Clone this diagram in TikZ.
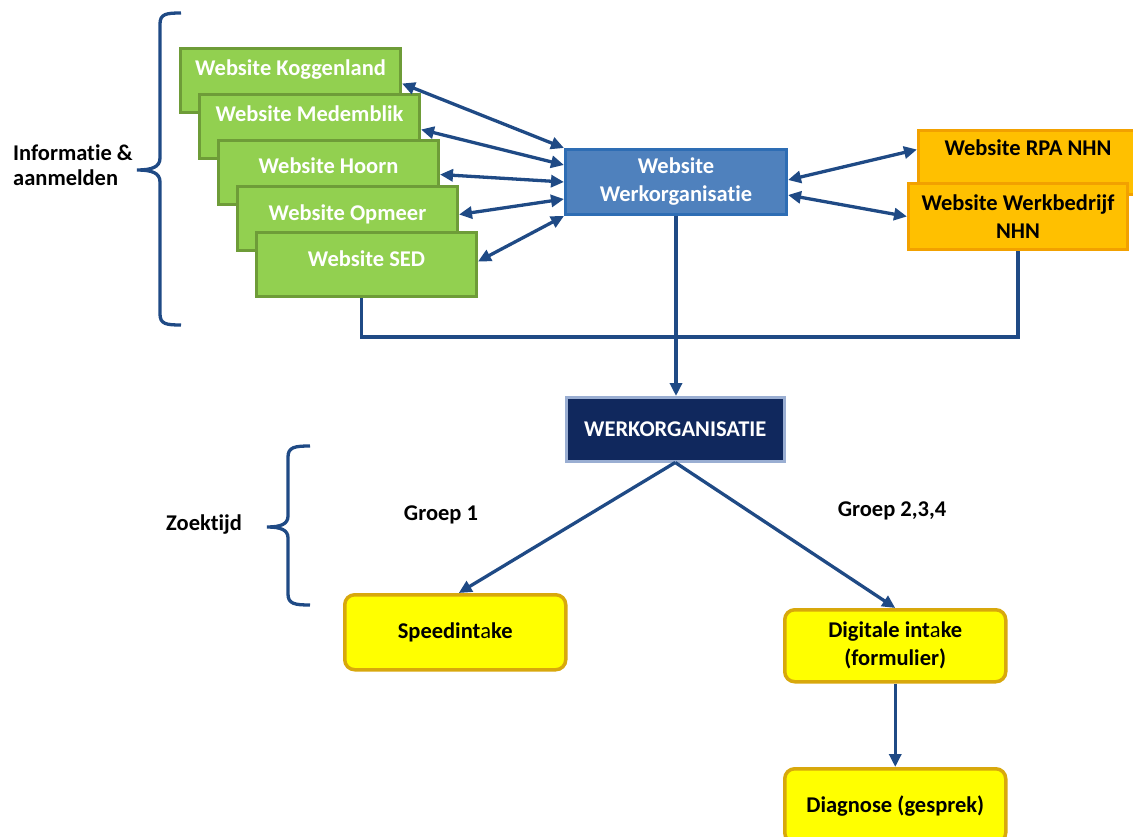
\documentclass[tikz,border=0pt]{standalone}
\usepackage{fontspec}
\setmainfont[Ligatures=NoCommon]{Carlito}
\usetikzlibrary{arrows.meta,calc}
\definecolor{grn}{HTML}{92D050}
\definecolor{grnB}{HTML}{6E9C38}
\definecolor{blu}{HTML}{4F81BD}
\definecolor{bluB}{HTML}{2E6DB4}
\definecolor{org}{HTML}{FFC000}
\definecolor{orgB}{HTML}{F2A100}
\definecolor{navy}{HTML}{10285D}
\definecolor{navyB}{HTML}{9AAED2}
\definecolor{yel}{HTML}{FFFF00}
\definecolor{yelB}{HTML}{D8A80C}
\definecolor{arr}{HTML}{1F4A85}
\begin{document}
\begin{tikzpicture}[x=1pt,y=-1pt,
  font=\fontsize{22.5}{28}\selectfont\bfseries,
  myt/.tip={Triangle[length=13pt,width=12pt]},
  gbox/.style={draw=grnB, fill=grn, line width=3pt, minimum width=220pt,
    minimum height=64pt, inner sep=0pt, text=white, anchor=north west},
  obox/.style={draw=orgB, fill=org, line width=3pt, minimum width=219pt,
    inner sep=0pt, text=black, anchor=north west, align=center},
  ybox/.style={draw=yelB, fill=yel, line width=3.5pt, rounded corners=10pt,
    minimum width=221pt, inner sep=0pt, text=black, anchor=north west, align=center},
  conn/.style={draw=arr, line width=3.3pt},
  brace/.style={draw=arr, line width=3.3pt},
  lbl/.style={text=black, inner sep=0pt}]
\useasboundingbox (0,0) rectangle (1133,837);

% green website boxes
\node[gbox, text height=27pt, text depth=37pt] (k) at (179,47) {Website Koggenland};
\node[gbox, text height=27pt, text depth=37pt] (m) at (198,93) {Website Medemblik};
\node[gbox, text height=33pt, text depth=31pt] (h) at (217,139) {Website Hoorn};
\node[gbox, text height=34pt, text depth=30pt] (o) at (236,185) {Website Opmeer};
\node[gbox, text height=34pt, text depth=30pt] (s) at (255,231) {Website SED};

% blue box
\node[draw=bluB, fill=blu, line width=3pt, minimum width=221pt, minimum height=65pt,
  inner sep=0pt, text=white, align=center, anchor=north west] (ww) at (564,148)
  {Website\\Werkorganisatie};

% orange boxes
\node[obox, text height=25pt, text depth=39pt] (rpa) at (917,129) {Website RPA NHN};
\node[obox, minimum height=66pt] (wb) at (907,182) {Website Werkbedrijf\\NHN};

% werkorganisatie
\node[draw=navyB, fill=navy, line width=2.5pt, minimum width=218pt, minimum height=64pt,
  inner sep=0pt, text=white, anchor=north west] (wo) at (565,396) {WERKORGANISATIE};

% yellow boxes
\node[ybox, minimum height=75pt] (sp) at (343,593) {Speedint{\mdseries a}ke};
\node[ybox, minimum height=72pt] (dg) at (783,608) {Digitale int{\mdseries a}ke\\(formulier)};
\node[ybox, minimum height=74pt] (dn) at (783,767) {Diagnose (gesprek)};

% labels
\node[lbl, anchor=west, align=left, font=\fontsize{22.5}{25}\selectfont\bfseries] (info) at (13,165) {Informatie \&\\aanmelden};
\node[lbl, anchor=west] (zt) at (166,525) {Zoektijd};
\node[lbl] (g1) at (441,515) {Groep 1};
\node[lbl] (g2) at (892,511) {Groep 2,3,4};

% arrows green <-> blue
\draw[conn, myt-myt] ([yshift=-3pt]k.east) -- ($(ww.north west)!0!(ww.south west)$);
\draw[conn, myt-myt] ([yshift=-3pt]m.east) -- ($(ww.north west)!0.25!(ww.south west)$);
\draw[conn, myt-myt] ([yshift=-2pt]h.east) -- ($(ww.north west)!0.5!(ww.south west)$);
\draw[conn, myt-myt] ([yshift=4pt]o.east) -- ($(ww.north west)!0.75!(ww.south west)$);
\draw[conn, myt-myt] ([yshift=3pt]s.east) -- ($(ww.north west)!1!(ww.south west)$);

% arrows blue <-> orange
\draw[conn, myt-myt] ([yshift=2pt]ww.east) -- ([yshift=13pt]rpa.west);
\draw[conn, myt-myt] ([yshift=-13pt]ww.east) -- (wb.west);

% connecting line
\coordinate (hl) at (675,337);
\draw[conn] ([xshift=-5pt]s.south) |- (hl) -| (wb.south);
\draw[conn, -myt] (ww.south) -- (ww.south |- wo.north);
\draw[conn, -myt] (wo.south) -- ([xshift=3.5pt]sp.north);
\draw[conn, -myt] (wo.south) -- (dg.north);
\draw[conn, -myt] (dg.south) -- (dn.north);

% braces
\draw[brace] (181,13) .. controls (166,13) and (160,14) .. (160,24) -- (160,158)
  .. controls (160,167) and (152,170) .. (137,170)
  .. controls (152,170) and (160,173) .. (160,182) -- (160,314)
  .. controls (160,324) and (166,325) .. (181,325);
\draw[brace] (310,446) .. controls (295,446) and (288,447) .. (288,457) -- (288,516)
  .. controls (288,524) and (281,527) .. (267,527)
  .. controls (281,527) and (288,530) .. (288,538) -- (288,594)
  .. controls (288,604) and (295,605) .. (310,605);
\end{tikzpicture}
\end{document}
